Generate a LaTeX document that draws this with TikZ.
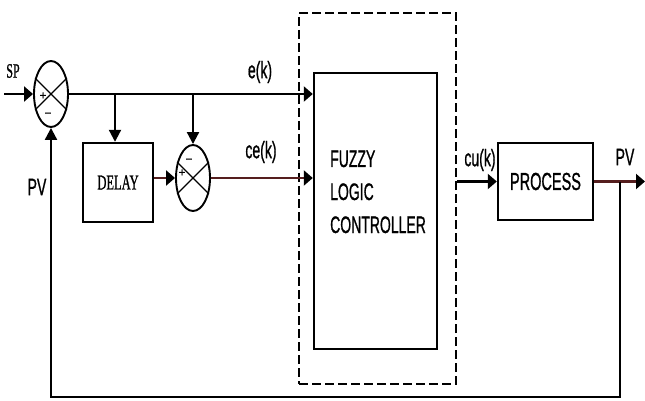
\documentclass[tikz,border=0pt]{standalone}
\usepackage{fontspec}
\setmainfont{Liberation Sans}[BoldFont=Liberation Sans,BoldFeatures={FakeBold=1.2}]
\newfontfamily\serifont{Liberation Serif}[BoldFont=Liberation Serif,BoldFeatures={FakeBold=1.2}]
\usetikzlibrary{arrows.meta,shapes.geometric}
\definecolor{lnbrown}{RGB}{85,30,30}
\newcommand{\vst}[1]{\scalebox{1}[1.7]{#1}}
\begin{document}
\begin{tikzpicture}[x=1pt,y=-1pt,
  wire/.style={line width=2.1pt},
  harr/.style={wire,-{Triangle[length=9pt,width=15pt,color=black]}},
  varr/.style={wire,-{Triangle[length=12pt,width=12pt,color=black]}},
  blk/.style={draw,line width=2.4pt,inner sep=0},
  sumj/.style={draw,ellipse,line width=1.9pt,minimum width=34pt,minimum height=66pt,inner sep=0},
  lbl/.style={font=\fontsize{14}{14}\selectfont\bfseries,inner sep=0},
  sgn/.style={font=\fontsize{12}{12}\selectfont\bfseries,inner sep=0},
  dbox/.style={draw,line width=2.2pt,dash pattern=on 9pt off 4pt,inner sep=0},
]
\useasboundingbox (0,0) rectangle (645,401);
\fill[white] (0,0) rectangle (645,401);

% blocks
\node[dbox,minimum width=157pt,minimum height=371pt] (dash) at (377.5,198.5) {};
\node[blk,minimum width=123pt,minimum height=276pt] (flc) at (375.5,211) {};
\node[blk,minimum width=70pt,minimum height=79pt,font=\fontsize{12.5}{12.5}\selectfont\serifont\bfseries] (delay) at (118,182.5) {\vst{DELAY}};
\node[blk,minimum width=95pt,minimum height=77pt,font=\fontsize{14.5}{14.5}\selectfont\bfseries] (proc) at (545.5,181.5) {\vst{PROCESS}};

% FLC text
\node[lbl,anchor=base west] (t1) at (330,167) {\vst{FUZZY}};
\node[lbl,anchor=base west] (t2) at (330,200) {\vst{LOGIC}};
\node[lbl,anchor=base west] (t3) at (330,233) {\vst{CONTROLLER}};

% summing junctions
\node[sumj] (s1) at (51,94) {};
\draw[line width=1.4pt] (s1.45) -- (s1.225) (s1.135) -- (s1.315);
\node[sumj] (s2) at (193,178) {};
\draw[line width=1.4pt] (s2.45) -- (s2.225) (s2.135) -- (s2.315);
\node[sgn] (p1) at (43,96) {+};
\node[sgn] (m1) at (48,115) {−};
\node[sgn] (m2) at (189,161) {−};
\node[sgn] (p2) at (182,173) {+};

% coordinates
\coordinate (sp) at (4,94);
\coordinate (tapa) at (115,94);
\coordinate (tapb) at (193,94);
\coordinate (tapo) at (620,181.5);
\coordinate (fb) at (620,397);
\coordinate (out) at (645,181.5);

% connectors
\draw[harr] (sp) -- (s1.west);
\draw[harr] (s1.east) -- (s1.east -| flc.west);
\draw[varr] (tapa) -- (tapa |- delay.north);
\draw[varr] (tapb) -- (s2.north);
\draw[harr,lnbrown] (delay.east |- s2.west) -- (s2.west);
\draw[harr,lnbrown] (s2.east) -- (s2.east -| flc.west);
\draw[harr] (dash.east |- proc.west) -- (proc.west);
\draw[harr,lnbrown] (proc.east) -- (out);
\draw[varr] (tapo) -- (fb) -| (s1.south);

% labels
\node[inner sep=0,font=\fontsize{12}{12}\selectfont\serifont\bfseries] (lsp) at (13,71) {\vst{SP}};
\node[lbl] (lek) at (260,72) {\vst{e(k)}};
\node[lbl] (lcek) at (261,152) {\vst{ce(k)}};
\node[lbl] (lcuk) at (480,160) {\vst{cu(k)}};
\node[lbl] (lpv1) at (625,157) {\vst{PV}};
\node[lbl] (lpv2) at (37,187) {\vst{PV}};
\end{tikzpicture}
\end{document}
